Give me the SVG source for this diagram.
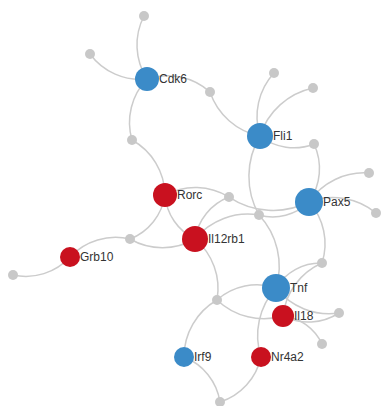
<svg xmlns="http://www.w3.org/2000/svg" width="381" height="406" viewBox="0 0 381 406">
<style>
.e{fill:none;stroke:#cccccc;stroke-width:1.5}
.g{fill:#c8c8c8}
.b{fill:#3b8bc8}
.r{fill:#c9111f}
.t{font-family:"Liberation Sans",Arial,sans-serif;font-size:12px;fill:#333}
</style>
<rect width="381" height="406" fill="#ffffff"/>
<g id="edges">
<path class="e" d="M147,79 A63.1,63.1 0 0,1 144,16"/>
<path class="e" d="M147,79 A62.2,62.2 0 0,1 90,54"/>
<path class="e" d="M147,79 A64.3,64.3 0 0,1 210,92"/>
<path class="e" d="M132,140 A62.8,62.8 0 0,1 147,79"/>
<path class="e" d="M132,140 A64.1,64.1 0 0,1 165,195"/>
<path class="e" d="M260,136 A66.6,66.6 0 0,1 210,92"/>
<path class="e" d="M260,136 A64.5,64.5 0 0,1 274,73"/>
<path class="e" d="M260,136 A71.5,71.5 0 0,1 313,88"/>
<path class="e" d="M314,144 A54.6,54.6 0 0,1 260,136"/>
<path class="e" d="M314,144 A58.2,58.2 0 0,1 309,202"/>
<path class="e" d="M259,215 A79,79 0 0,1 260,136"/>
<path class="e" d="M259,215 A75,75 0 0,1 276,288"/>
<path class="e" d="M195,239 A68.4,68.4 0 0,1 259,215"/>
<path class="e" d="M309,202 A80.2,80.2 0 0,1 229,197"/>
<path class="e" d="M309,202 A51.7,51.7 0 0,1 259,215"/>
<path class="e" d="M165,195 A64,64 0 0,1 229,197"/>
<path class="e" d="M195,239 A54,54 0 0,1 229,197"/>
<path class="e" d="M195,239 A53.3,53.3 0 0,1 165,195"/>
<path class="e" d="M165,195 A56.2,56.2 0 0,1 130,239"/>
<path class="e" d="M195,239 A65,65 0 0,1 130,239"/>
<path class="e" d="M70,257 A62.6,62.6 0 0,1 130,239"/>
<path class="e" d="M70,257 A59.8,59.8 0 0,1 13,275"/>
<path class="e" d="M195,239 A64.8,64.8 0 0,1 217,300"/>
<path class="e" d="M217,300 A60.2,60.2 0 0,1 276,288"/>
<path class="e" d="M283,316 A67.9,67.9 0 0,1 217,300"/>
<path class="e" d="M184,357 A65.9,65.9 0 0,1 217,300"/>
<path class="e" d="M184,357 A57.6,57.6 0 0,1 220,402"/>
<path class="e" d="M261,357 A60.9,60.9 0 0,1 220,402"/>
<path class="e" d="M261,357 A70.6,70.6 0 0,1 276,288"/>
<path class="e" d="M276,288 A52.4,52.4 0 0,1 322,263"/>
<path class="e" d="M283,316 A65.8,65.8 0 0,1 322,263"/>
<path class="e" d="M309,202 A62.4,62.4 0 0,1 322,263"/>
<path class="e" d="M339,313 A67.8,67.8 0 0,1 276,288"/>
<path class="e" d="M339,313 A56.1,56.1 0 0,1 283,316"/>
<path class="e" d="M283,316 A48,48 0 0,1 322,344"/>
<path class="e" d="M309,202 A66.6,66.6 0 0,1 369,173"/>
<path class="e" d="M309,202 A67.9,67.9 0 0,1 376,213"/>
</g>
<g id="n-g1"><circle class="g" cx="144" cy="16" r="5"/></g>
<g id="n-g2"><circle class="g" cx="90" cy="54" r="5"/></g>
<g id="n-g3"><circle class="g" cx="210" cy="92" r="5"/></g>
<g id="n-g4"><circle class="g" cx="132" cy="140" r="5"/></g>
<g id="n-g5"><circle class="g" cx="274" cy="73" r="5"/></g>
<g id="n-g6"><circle class="g" cx="313" cy="88" r="5"/></g>
<g id="n-g7"><circle class="g" cx="314" cy="144" r="5"/></g>
<g id="n-g8"><circle class="g" cx="369" cy="173" r="5"/></g>
<g id="n-g9"><circle class="g" cx="376" cy="213" r="5"/></g>
<g id="n-g10"><circle class="g" cx="229" cy="197" r="5"/></g>
<g id="n-g11"><circle class="g" cx="259" cy="215" r="5"/></g>
<g id="n-g12"><circle class="g" cx="130" cy="239" r="5"/></g>
<g id="n-g13"><circle class="g" cx="13" cy="275" r="5"/></g>
<g id="n-g14"><circle class="g" cx="322" cy="263" r="5"/></g>
<g id="n-g15"><circle class="g" cx="217" cy="300" r="5"/></g>
<g id="n-g16"><circle class="g" cx="339" cy="313" r="5"/></g>
<g id="n-g17"><circle class="g" cx="322" cy="344" r="5"/></g>
<g id="n-g18"><circle class="g" cx="220" cy="402" r="5"/></g>
<g id="n-cdk6"><circle class="b" cx="147" cy="79" r="12"/><text class="t" x="159" y="83">Cdk6</text></g>
<g id="n-fli1"><circle class="b" cx="260" cy="136" r="13"/><text class="t" x="273" y="140">Fli1</text></g>
<g id="n-pax5"><circle class="b" cx="309" cy="202" r="14"/><text class="t" x="323" y="206">Pax5</text></g>
<g id="n-rorc"><circle class="r" cx="165" cy="195" r="12"/><text class="t" x="177" y="199">Rorc</text></g>
<g id="n-il12rb1"><circle class="r" cx="195" cy="239" r="13"/><text class="t" x="208" y="243">Il12rb1</text></g>
<g id="n-grb10"><circle class="r" cx="70" cy="257" r="10"/><text class="t" x="80" y="261">Grb10</text></g>
<g id="n-tnf"><circle class="b" cx="276" cy="288" r="14"/><text class="t" x="290" y="292">Tnf</text></g>
<g id="n-il18"><circle class="r" cx="283" cy="316" r="11"/><text class="t" x="294" y="320">Il18</text></g>
<g id="n-irf9"><circle class="b" cx="184" cy="357" r="10"/><text class="t" x="194" y="361">Irf9</text></g>
<g id="n-nr4a2"><circle class="r" cx="261" cy="357" r="10"/><text class="t" x="271" y="361">Nr4a2</text></g>
</svg>
